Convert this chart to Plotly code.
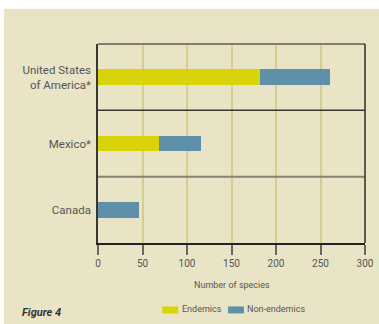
import plotly.graph_objects as go

countries = ["Canada", "Mexico*", "United States<br>of America*"]
endemics = [0, 68, 182]
non_endemics = [46, 48, 79]
x_ticks = [0, 50, 100, 150, 200, 250, 300]

BG = "#E9E4C6"
C_END = "#D9D30B"
C_NON = "#5F90A9"
TXT = "#555555"
FONT = "Liberation Sans Narrow, Roboto, Arial Narrow, sans-serif"

fig = go.Figure()
fig.add_trace(go.Bar(y=countries, x=endemics, orientation="h", name="Endemics",
                     marker=dict(color=C_END, line=dict(width=0)), width=0.24, showlegend=False))
fig.add_trace(go.Bar(y=countries, x=non_endemics, orientation="h", name="Non-endemics",
                     marker=dict(color=C_NON, line=dict(width=0)), width=0.24, showlegend=False))

W, H = 379, 324
L, R, T, B = 97.5, 13.5, 43.5, 80.7
pw, ph = W - L - R, H - T - B

def px(xp):
    return (xp - L) / pw

def py(yp):
    return (H - B - yp) / ph

shapes = []
# white strips outside the beige panel
shapes.append(dict(type="rect", xref="paper", yref="paper", x0=px(-5), x1=px(W + 5), y0=py(8), y1=py(-5),
                   fillcolor="white", line=dict(width=0), layer="above"))
shapes.append(dict(type="rect", xref="paper", yref="paper", x0=px(-5), x1=px(3), y0=py(H + 5), y1=py(-5),
                   fillcolor="white", line=dict(width=0), layer="above"))
# row separators / top border
shapes.append(dict(type="line", xref="paper", yref="paper", x0=0, x1=1, y0=1, y1=1,
                   line=dict(color="#857B68", width=2), layer="above"))
shapes.append(dict(type="line", xref="paper", yref="paper", x0=0, x1=1, y0=2 / 3, y1=2 / 3,
                   line=dict(color="#3A3630", width=1.5), layer="above"))
shapes.append(dict(type="line", xref="paper", yref="paper", x0=0, x1=1, y0=1 / 3, y1=1 / 3,
                   line=dict(color="#8A8272", width=2), layer="above"))
# right border
shapes.append(dict(type="line", xref="paper", yref="paper", x0=1, x1=1, y0=0, y1=1,
                   line=dict(color="#2F2B25", width=1.5), layer="above"))
# legend swatches
shapes.append(dict(type="rect", xref="paper", yref="paper", x0=px(162), x1=px(178), y0=py(314), y1=py(307),
                   fillcolor=C_END, line=dict(width=0)))
shapes.append(dict(type="rect", xref="paper", yref="paper", x0=px(228), x1=px(244), y0=py(314), y1=py(307),
                   fillcolor=C_NON, line=dict(width=0)))

annotations = [
    dict(text="Number of species", xref="paper", yref="paper", x=px(232), y=py(285),
         showarrow=False, font=dict(family=FONT, size=9, color=TXT), xanchor="center", yanchor="middle"),
    dict(text="Endemics", xref="paper", yref="paper", x=px(179.5), y=py(310),
         showarrow=False, font=dict(family=FONT, size=9, color=TXT), xanchor="left", yanchor="middle"),
    dict(text="Non-endemics", xref="paper", yref="paper", x=px(245.5), y=py(310),
         showarrow=False, font=dict(family=FONT, size=9, color=TXT), xanchor="left", yanchor="middle"),
    dict(text="<b><i>Figure 4</i></b>", xref="paper", yref="paper", x=px(19.5), y=py(313),
         showarrow=False, font=dict(family=FONT, size=11, color="#333333"), xanchor="left", yanchor="middle"),
]

fig.update_layout(
    barmode="stack",
    width=W, height=H,
    margin=dict(l=L, r=R, t=T, b=B, pad=0, autoexpand=False),
    paper_bgcolor=BG, plot_bgcolor=BG,
    font=dict(family=FONT, color=TXT),
    shapes=shapes, annotations=annotations,
    xaxis=dict(range=[0, 300], tickvals=x_ticks, ticktext=[str(v) for v in x_ticks], automargin=False,
               showgrid=True, gridcolor="#D6CD8E", gridwidth=1.5, zeroline=False,
               showline=True, linecolor="#222222", linewidth=1.5,
               ticks="outside", ticklen=10, tickwidth=1.5, tickcolor="#6A6660",
               tickfont=dict(family=FONT, size=10, color=TXT), fixedrange=True),
    yaxis=dict(range=[-0.5, 2.5], categoryorder="array", categoryarray=countries, automargin=False,
               showgrid=False, zeroline=False, showline=True, linecolor="#3A3630", linewidth=1.5,
               ticks="", ticklabelstandoff=3,
               tickfont=dict(family=FONT, size=11.5, color=TXT), fixedrange=True),
)

fig.write_html("out.html", config={"displayModeBar": False},
               post_script="document.body.style.margin='0';document.body.style.overflow='hidden';")
